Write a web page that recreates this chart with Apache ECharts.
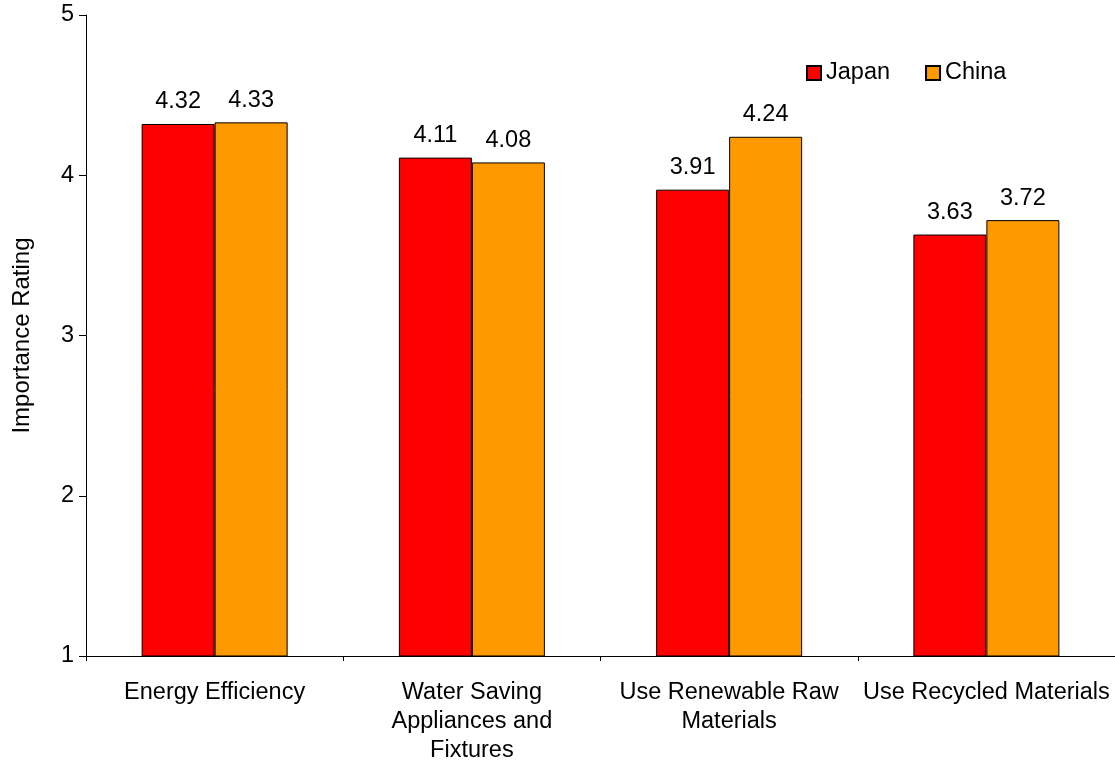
<!DOCTYPE html>
<html>
<head>
<meta charset="utf-8">
<script src="https://cdn.jsdelivr.net/npm/echarts@6/dist/echarts.min.js"></script>
<style>
html,body{margin:0;padding:0;background:#fff;}
#chart{width:1115px;height:765px;}
</style>
</head>
<body>
<div id="chart"></div>
<script>
const categories = ["Energy Efficiency", "Water Saving\nAppliances and\nFixtures", "Use Renewable Raw\nMaterials", "Use Recycled Materials"];
const japan = [4.32, 4.11, 3.91, 3.63];
const china = [4.33, 4.08, 4.24, 3.72];
const seriesNames = ["Japan", "China"];
const yAxisName = "Importance Rating";

const FONT = "'Liberation Sans', Arial, sans-serif";
const FS = 23.5;
const chart = echarts.init(document.getElementById('chart'));
const labelCfg = {
  show: true, position: 'top', distance: 10,
  fontFamily: FONT, fontSize: FS, color: '#000',
  formatter: p => p.value.toFixed(2)
};
chart.setOption({
  animation: false,
  backgroundColor: '#fff',
  textStyle: { fontFamily: FONT, color: '#000' },
  grid: { left: 86, top: 15, bottom: 103, width: 1032, containLabel: false },
  legend: {
    data: seriesNames,
    left: 806, top: 61, padding: 0,
    itemWidth: 14, itemHeight: 14, itemGap: 35,
    icon: 'rect',
    textStyle: { fontFamily: FONT, fontSize: FS, color: '#000' }
  },
  xAxis: {
    type: 'category',
    data: categories,
    boundaryGap: true,
    axisLine: { show: true, lineStyle: { color: '#000', width: 1 } },
    axisTick: { show: true, length: 5, alignWithLabel: false, lineStyle: { color: '#000' } },
    axisLabel: { interval: 0, margin: 22, fontFamily: FONT, fontSize: FS, color: '#000', lineHeight: 29 },
    splitLine: { show: false }
  },
  yAxis: {
    type: 'value',
    min: 1, max: 5, interval: 1,
    name: yAxisName,
    nameLocation: 'middle',
    nameGap: 52,
    nameTextStyle: { fontFamily: FONT, fontSize: 24, color: '#000' },
    axisLine: { show: true, lineStyle: { color: '#000', width: 1 } },
    axisTick: { show: true, length: 7, lineStyle: { color: '#000' } },
    axisLabel: { margin: 12, fontFamily: FONT, fontSize: FS, color: '#000' },
    splitLine: { show: false }
  },
  series: [
    {
      name: seriesNames[0], type: 'bar', data: japan,
      barWidth: 73, barGap: '0%',
      itemStyle: { color: '#FF0000', borderColor: '#000', borderWidth: 1 },
      label: labelCfg
    },
    {
      name: seriesNames[1], type: 'bar', data: china,
      barWidth: 73, barGap: '0%',
      itemStyle: { color: '#FF9900', borderColor: '#000', borderWidth: 1 },
      label: labelCfg
    }
  ]
});
</script>
</body>
</html>
